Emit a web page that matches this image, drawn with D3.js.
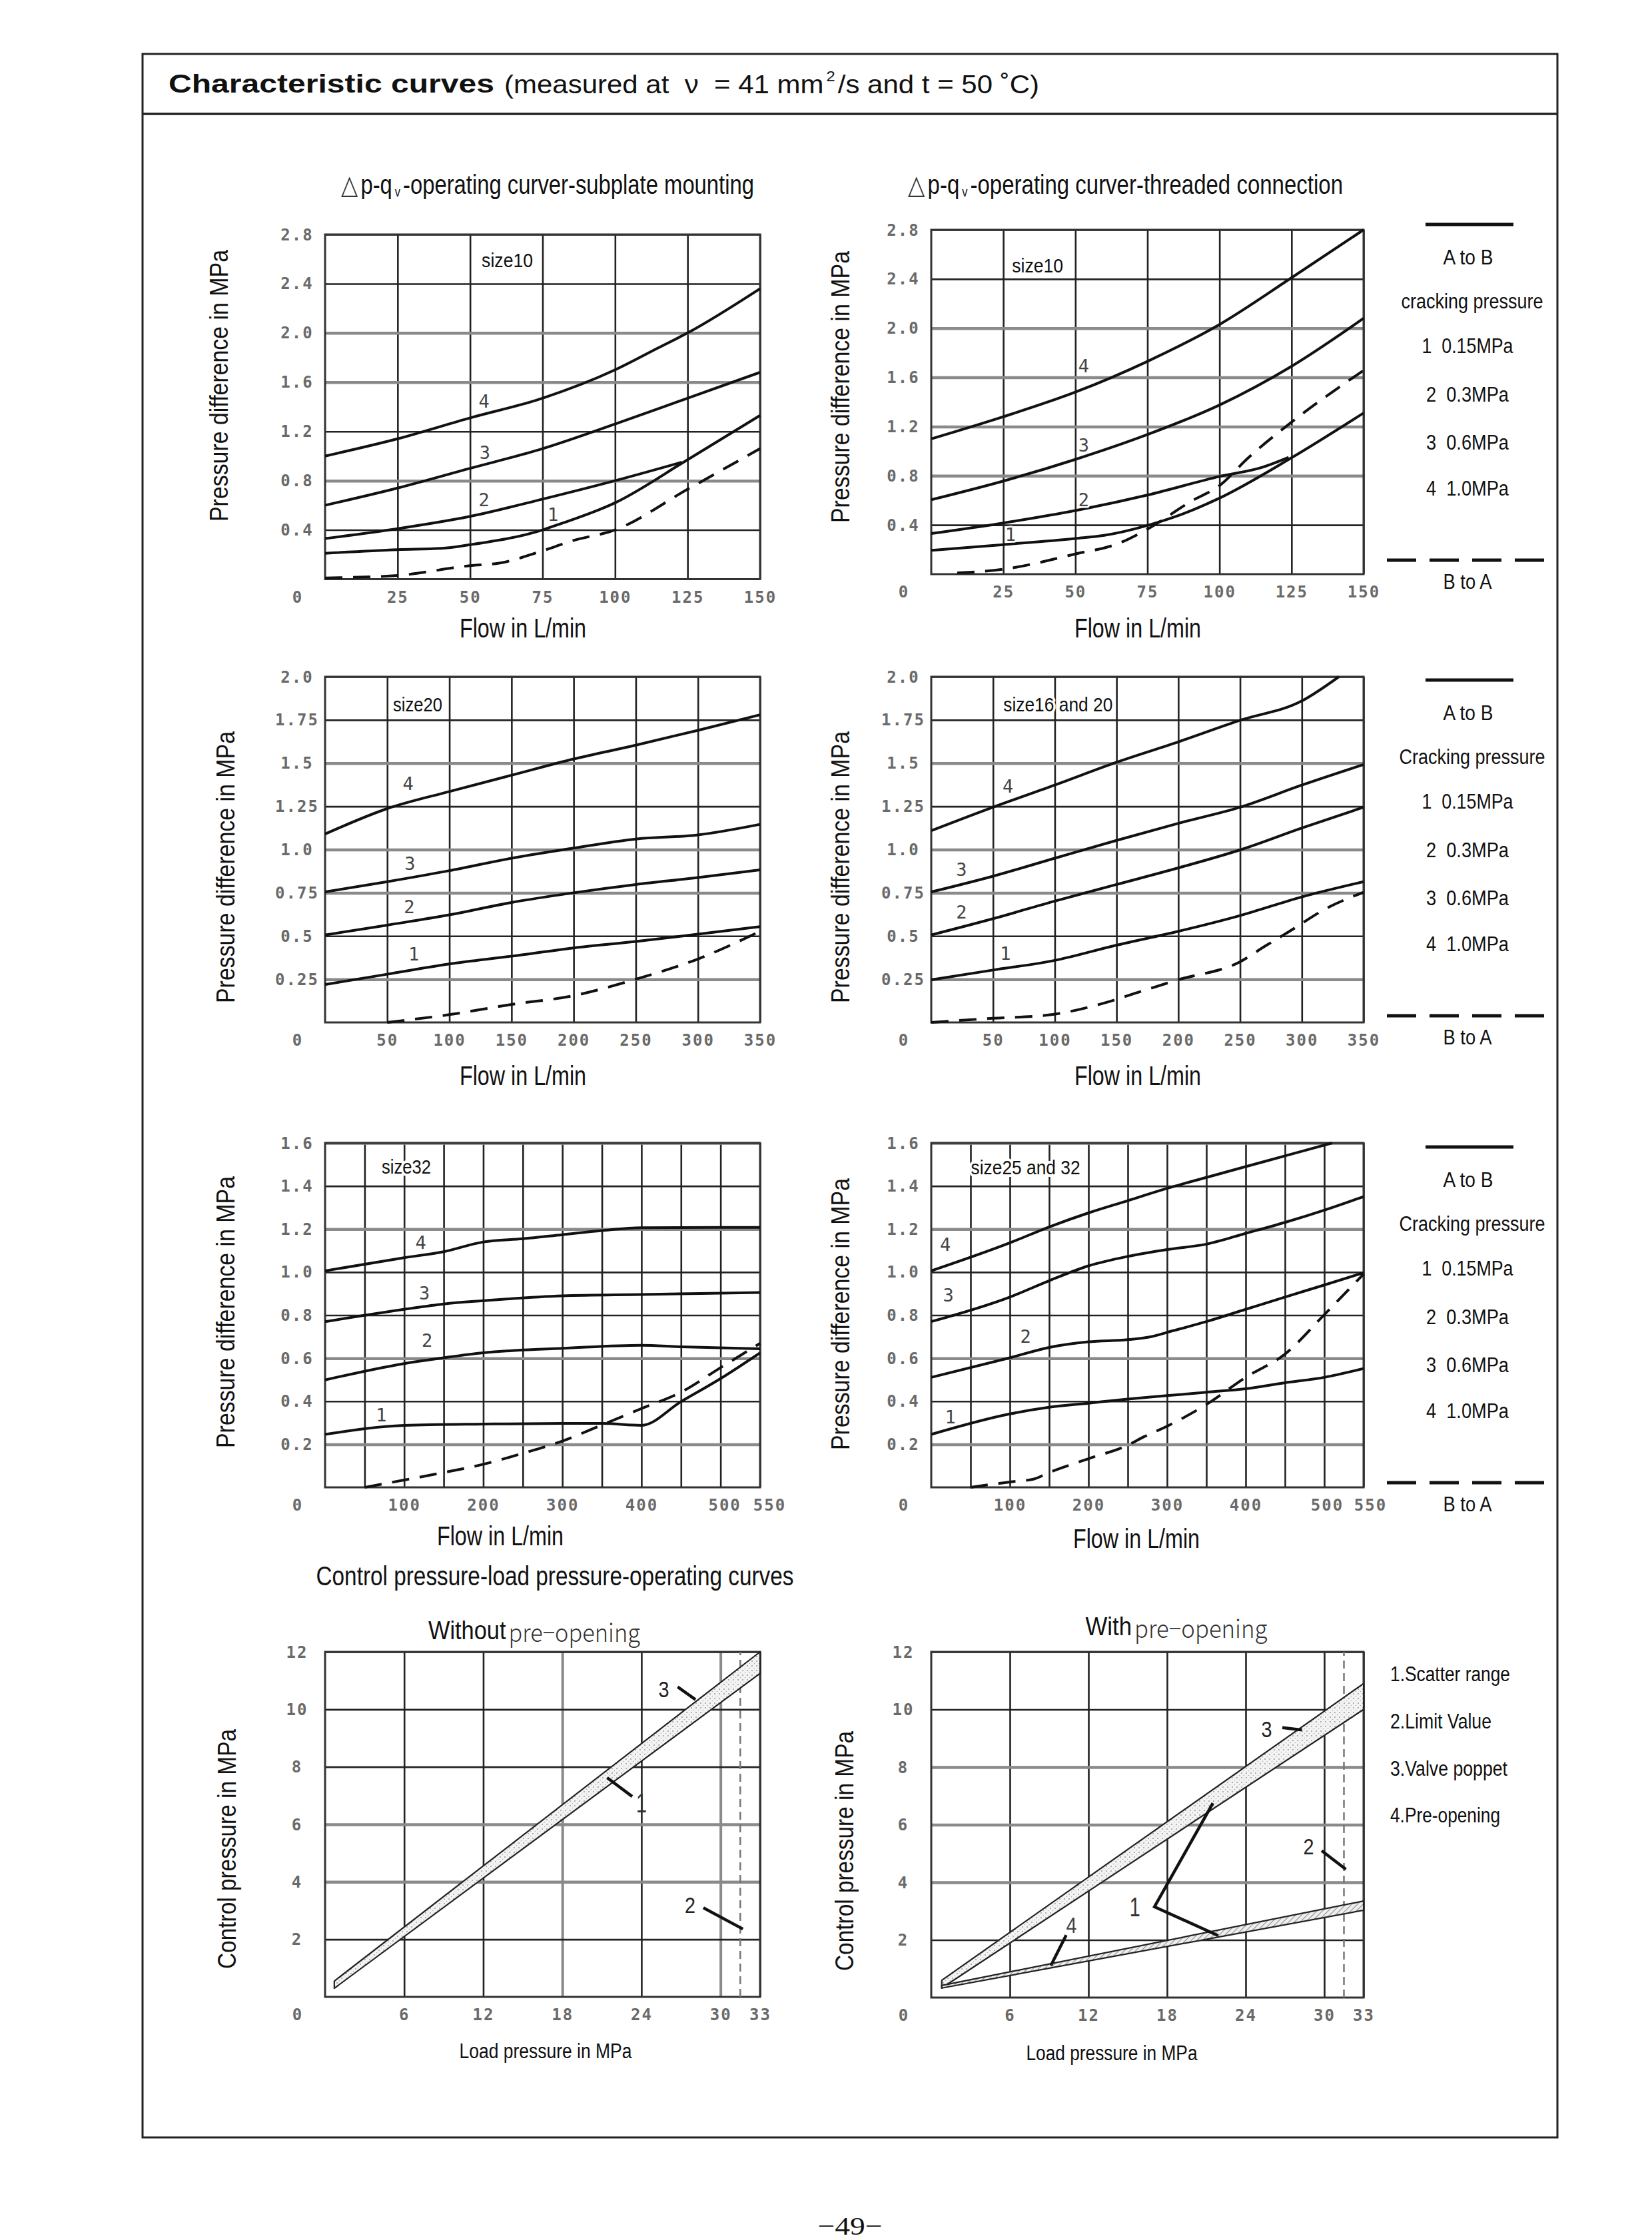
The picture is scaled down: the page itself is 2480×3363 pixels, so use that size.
<!DOCTYPE html>
<html><head><meta charset="utf-8">
<script src="https://cdn.jsdelivr.net/npm/d3@7/dist/d3.min.js"></script>
<style>html,body{margin:0;padding:0;background:#fff}svg{display:block}</style>
</head><body>
<svg id="page" width="2480" height="3363"></svg>
<script>
// ================= DATA =================
// Chart 1: Δp-qv subplate mounting, size10  [flow L/min, Δp MPa]
const sub10_c4 = [[0,1.00],[25,1.14],[50,1.31],[75,1.47],[100,1.70],[115,1.88],[125,2.00],[150,2.36]];
const sub10_c3 = [[0,0.60],[25,0.74],[50,0.90],[75,1.06],[100,1.26],[125,1.47],[150,1.68]];
const sub10_c2 = [[0,0.33],[25,0.41],[50,0.51],[75,0.65],[100,0.80],[123,0.95]];
const sub10_c1 = [[0,0.21],[25,0.24],[40,0.25],[50,0.28],[75,0.40],[80,0.44],[100,0.62],[125,0.97],[150,1.33]];
const sub10_ba = [[0,0.01],[25,0.03],[50,0.11],[60,0.13],[75,0.23],[85,0.31],[100,0.40],[125,0.73],[150,1.06]];
// Chart 2: threaded connection, size10
const thr10_c4 = [[0,1.10],[25,1.28],[50,1.48],[75,1.73],[100,2.03],[125,2.41],[150,2.80]];
const thr10_c3 = [[0,0.605],[25,0.757],[50,0.933],[75,1.135],[100,1.375],[125,1.69],[150,2.08]];
const thr10_c2 = [[0,0.33],[25,0.416],[50,0.517],[75,0.643],[100,0.794],[115,0.87],[124,0.95]];
const thr10_c1 = [[0,0.194],[25,0.24],[50,0.29],[60,0.315],[75,0.396],[85,0.47],[100,0.618],[125,0.946],[150,1.31]];
const thr10_ba = [[9,0.01],[25,0.04],[50,0.164],[65,0.25],[75,0.366],[90,0.59],[100,0.72],[110,0.946],[125,1.236],[150,1.657]];
// Chart 3: subplate, size20
const sub20_c4 = [[0,1.09],[50,1.237],[100,1.336],[150,1.43],[200,1.524],[250,1.604],[300,1.69],[350,1.78]];
const sub20_c3 = [[0,0.755],[50,0.814],[100,0.878],[150,0.95],[200,1.009],[250,1.061],[300,1.085],[350,1.146]];
const sub20_c2 = [[0,0.506],[50,0.563],[100,0.622],[150,0.694],[200,0.75],[250,0.798],[300,0.838],[350,0.883]];
const sub20_c1 = [[0,0.219],[50,0.279],[100,0.338],[150,0.383],[200,0.431],[250,0.468],[300,0.511],[350,0.554]];
const sub20_ba = [[50,0],[100,0.045],[150,0.104],[200,0.155],[250,0.25],[300,0.367],[350,0.527]];
// Chart 4: threaded, size16 and 20
const thr20_c4 = [[0,1.109],[50,1.245],[100,1.373],[150,1.505],[200,1.623],[250,1.748],[300,1.86],[330,2.0]];
const thr20_c3 = [[0,0.755],[50,0.846],[100,0.95],[150,1.053],[200,1.152],[250,1.245],[300,1.373],[350,1.492]];
const thr20_c2 = [[0,0.506],[50,0.6],[100,0.702],[150,0.798],[200,0.894],[250,0.998],[300,1.125],[350,1.245]];
const thr20_c1 = [[0,0.247],[50,0.303],[100,0.359],[150,0.447],[200,0.527],[250,0.618],[300,0.726],[350,0.814]];
const thr20_ba = [[0,0],[50,0.024],[95,0.043],[140,0.112],[170,0.18],[200,0.247],[250,0.351],[270,0.44],[290,0.527],[320,0.66],[350,0.753]];
// Chart 5: subplate, size32
const sub32_c4 = [[0,1.006],[100,1.067],[150,1.095],[200,1.14],[250,1.155],[300,1.174],[350,1.193],[400,1.206],[550,1.208]];
const sub32_c3 = [[0,0.77],[100,0.827],[150,0.852],[200,0.867],[300,0.89],[400,0.896],[550,0.905]];
const sub32_c2 = [[0,0.499],[100,0.575],[150,0.602],[200,0.625],[250,0.638],[300,0.646],[400,0.66],[450,0.653],[550,0.644]];
const sub32_c1 = [[0,0.246],[100,0.288],[200,0.294],[300,0.297],[350,0.297],[400,0.288],[450,0.398],[500,0.505],[550,0.625]];
const sub32_ba = [[50,0],[100,0.034],[150,0.069],[200,0.107],[250,0.158],[300,0.215],[350,0.29],[400,0.366],[450,0.442],[500,0.556],[550,0.669]];
// Chart 6: threaded, size25 and 32
const thr32_c4 = [[0,1.006],[100,1.136],[150,1.21],[200,1.275],[250,1.332],[300,1.389],[350,1.44],[400,1.49],[450,1.54],[510,1.6]];
const thr32_c3 = [[0,0.77],[100,0.884],[150,0.96],[200,1.029],[250,1.073],[300,1.105],[350,1.13],[400,1.18],[450,1.231],[500,1.288],[550,1.351]];
const thr32_c2 = [[0,0.511],[100,0.602],[150,0.65],[200,0.676],[250,0.686],[280,0.70],[300,0.72],[350,0.77],[400,0.827],[450,0.884],[500,0.94],[550,0.997]];
const thr32_c1 = [[0,0.246],[100,0.341],[150,0.372],[200,0.391],[250,0.41],[300,0.426],[350,0.442],[400,0.458],[450,0.486],[500,0.511],[550,0.552]];
const thr32_ba = [[50,0],[100,0.025],[130,0.038],[150,0.069],[200,0.133],[250,0.196],[270,0.234],[300,0.284],[350,0.385],[400,0.511],[450,0.619],[500,0.802],[550,0.991]];
// Chart 7/8: control pressure vs load pressure [load MPa, control MPa]
const noPre_upper = [[0.7,0.55],[33,12.0]];
const noPre_lower = [[0.7,0.3],[33,11.25]];
const pre_valve_upper = [[0.8,0.6],[33,10.9]];
const pre_valve_lower = [[0.8,0.33],[33,10.0]];
const pre_open_upper = [[0.8,0.42],[33,3.35]];
const pre_open_lower = [[0.8,0.33],[33,3.03]];
const limitValue = 31.5;

// Tick values / labels
const row1_xGrid = [25,50,75,100,125,150];
const row1_xTicks = [25,50,75,100,125,150];
const row1_xLabels = ['25','50','75','100','125','150'];
const row1_yTicks = [0.4,0.8,1.2,1.6,2.0,2.4,2.8];
const row1_yLabels = ['0.4','0.8','1.2','1.6','2.0','2.4','2.8'];
const row2_xGrid = [50,100,150,200,250,300,350];
const row2_xTicks = [50,100,150,200,250,300,350];
const row2_xLabels = ['50','100','150','200','250','300','350'];
const row2_yTicks = [0.25,0.5,0.75,1.0,1.25,1.5,1.75,2.0];
const row2_yLabels = ['0.25','0.5','0.75','1.0','1.25','1.5','1.75','2.0'];
const row3_xGrid = [50,100,150,200,250,300,350,400,450,500,550];
const row3_xTicks = [100,200,300,400,500,550];
const row3_xLabels = ['100','200','300','400','500','550'];
const row3_yTicks = [0.2,0.4,0.6,0.8,1.0,1.2,1.4,1.6];
const row3_yLabels = ['0.2','0.4','0.6','0.8','1.0','1.2','1.4','1.6'];
const row4_xGrid = [6,12,18,24,30,33];
const row4_xTicks = [6,12,18,24,30,33];
const row4_xLabels = ['6','12','18','24','30','33'];
const row4_yTicks = [2,4,6,8,10,12];
const row4_yLabels = ['2','4','6','8','10','12'];
const legendItems = ['1\u00a0\u00a00.15MPa','2\u00a0\u00a00.3MPa','3\u00a0\u00a00.6MPa','4\u00a0\u00a01.0MPa'];
const legend4Items = ['1.Scatter range','2.Limit Value','3.Valve poppet','4.Pre-opening'];

// ================= DRAWING =================
const svg = d3.select('#page');
const SANS = "'Liberation Sans', Arial, Helvetica, sans-serif";
const MONO = "'DejaVu Sans Mono', 'Liberation Mono', monospace";
const TICKC = '#6a6a6a';

const defs = svg.append('defs');
const pat = defs.append('pattern').attr('id','stip').attr('patternUnits','userSpaceOnUse')
  .attr('width',7).attr('height',7);
pat.append('rect').attr('width',7).attr('height',7).attr('fill','#f3f3f3');
pat.append('circle').attr('cx',2).attr('cy',2).attr('r',1).attr('fill','#9a9a9a');
pat.append('circle').attr('cx',5.5).attr('cy',5.5).attr('r',0.8).attr('fill','#b0b0b0');
const pat2 = defs.append('pattern').attr('id','hatch').attr('patternUnits','userSpaceOnUse')
  .attr('width',6).attr('height',6).attr('patternTransform','rotate(45)');
pat2.append('rect').attr('width',6).attr('height',6).attr('fill','#eee');
pat2.append('line').attr('x1',0).attr('y1',0).attr('x2',0).attr('y2',6).attr('stroke','#888').attr('stroke-width',2);

function txt(g,x,y,s,o={}){
  const t=g.append('text').attr('x',x).attr('y',y).text(s)
    .attr('font-family',o.family||SANS).attr('font-size',o.size||30)
    .attr('fill',o.fill||'#111').attr('text-anchor',o.anchor||'middle')
    .attr('dominant-baseline',o.base||'central');
  if(o.weight) t.attr('font-weight',o.weight);
  if(o.w) t.attr('textLength',o.w).attr('lengthAdjust','spacingAndGlyphs');
  if(o.rot) t.attr('transform',`rotate(${o.rot},${x},${y})`);
  if(o.ls) t.attr('letter-spacing',o.ls);
  if(o.halo) t.attr('stroke','#fff').attr('stroke-width',o.halo).attr('paint-order','stroke').attr('stroke-linejoin','round');
  return t;
}
// several text runs laid side by side (small gaps), fitted to a total width
function richText(parent,x,y,pieces,totalW,anchor){
  const g=parent.append('g');
  const GAP=4;
  const els=pieces.map(p=>{
    const t=g.append('text').attr('x',0).attr('y',y+(p.dy||0)).text(p.s)
      .attr('font-family',p.family||SANS).attr('font-size',p.size).attr('fill',p.fill||'#111')
      .attr('dominant-baseline','central');
    if(p.weight) t.attr('font-weight',p.weight);
    return t;
  });
  const nat=els.map(t=>t.node().getComputedTextLength());
  const k=(totalW-GAP*(els.length-1))/d3.sum(nat);
  let cx = anchor==='middle' ? x-totalW/2 : x;
  els.forEach((t,i)=>{
    t.attr('x',cx).attr('textLength',nat[i]*k).attr('lengthAdjust','spacingAndGlyphs');
    cx+=nat[i]*k+GAP;
  });
}

// Page frame
svg.append('rect').attr('x',214).attr('y',81).attr('width',2124).attr('height',3128)
  .attr('fill','none').attr('stroke','#222').attr('stroke-width',3);
svg.append('line').attr('x1',214).attr('x2',2338).attr('y1',171).attr('y2',171)
  .attr('stroke','#222').attr('stroke-width',3.5);
txt(svg,253,126,'Characteristic curves',{anchor:'start',size:38,weight:'bold',w:489});
richText(svg,757,126,[
  {s:'(measured at \u00a0ν\u00a0 = 41 mm',size:39},
  {s:'2',size:22,dy:-12},
  {s:'/s and t = 50 ˚C)',size:39}],803,'start');

txt(svg,1276,3342,'−49−',{family:"'Liberation Serif', 'Times New Roman', serif",size:38,w:97});

function chart(c){
  const g = svg.append('g');
  const x = d3.scaleLinear().domain(c.xd).range([c.l,c.r]);
  const y = d3.scaleLinear().domain(c.yd).range([c.b,c.t]);
  // grid via axes
  const gx = g.append('g').attr('transform',`translate(0,${c.b})`)
    .call(d3.axisBottom(x).tickValues(c.xGrid).tickSize(-(c.b-c.t)).tickFormat(''));
  gx.select('.domain').remove();
  gx.selectAll('line').attr('stroke',d=>(c.grayX||[]).includes(d)?'#8a8a8a':'#222')
    .attr('stroke-width',d=>(c.grayX||[]).includes(d)?4:2.6);
  const gy = g.append('g').attr('transform',`translate(${c.l},0)`)
    .call(d3.axisLeft(y).tickValues(c.yTicks).tickSize(-(c.r-c.l)).tickFormat(''));
  gy.select('.domain').remove();
  gy.selectAll('line').attr('stroke',d=>(c.grayY||[]).includes(d)?'#8a8a8a':'#222')
    .attr('stroke-width',d=>(c.grayY||[]).includes(d)?4.5:2.6);
  g.append('rect').attr('x',c.l).attr('y',c.t).attr('width',c.r-c.l).attr('height',c.b-c.t)
    .attr('fill','none').attr('stroke','#333').attr('stroke-width',3);
  // tick labels via axes
  const lx = g.append('g').attr('transform',`translate(0,${c.b})`)
    .call(d3.axisBottom(x).tickValues(c.xTicks).tickSize(0).tickFormat((d,i)=>c.xLabels[i]));
  lx.select('.domain').remove();
  lx.selectAll('text').attr('y',27).attr('dy','0').attr('dominant-baseline','central')
    .attr('font-family',MONO).attr('font-size',24).attr('font-weight','bold').attr('fill',TICKC).attr('letter-spacing',2)
    .attr('dx',(d,i)=> (c.xShift && c.xShift[i]) || 0);
  const ly = g.append('g').attr('transform',`translate(${c.l},0)`)
    .call(d3.axisLeft(y).tickValues(c.yTicks).tickSize(0).tickFormat((d,i)=>c.yLabels[i]));
  ly.select('.domain').remove();
  ly.selectAll('text').attr('x',-42).attr('dy','0').attr('dominant-baseline','central').attr('text-anchor','middle')
    .attr('font-family',MONO).attr('font-size',24).attr('font-weight','bold').attr('fill',TICKC).attr('letter-spacing',2);
  txt(g,c.l-42,c.b+27,'0',{family:MONO,size:24,weight:'bold',fill:TICKC});
  // axis titles
  txt(g,c.yl[0],c.yl[1],c.yTitle,{size:38,rot:-90,w:c.yTitleW,fill:'#111'});
  txt(g,c.xl[0],c.xl[1],c.xTitle,{size:c.xTitleSize||40,w:c.xTitleW,fill:'#111'});
  if(c.tag) txt(g,x(c.tag[0]),y(c.tag[1]),c.tag[2],{anchor:'start',size:30,w:c.tag[3],halo:8});
  const line = d3.line().x(d=>x(d[0])).y(d=>y(d[1])).curve(d3.curveMonotoneX);
  (c.curves||[]).forEach(cv=>{
    g.append('path').attr('d',line(cv.data)).attr('fill','none').attr('stroke','#111')
      .attr('stroke-width',4).attr('stroke-linejoin','round')
      .attr('stroke-dasharray',cv.dash?'26,16':null);
  });
  (c.labels||[]).forEach(lb=>txt(g,x(lb[0]),y(lb[1]),lb[2],{family:MONO,size:27,fill:'#444',halo:5}));
  return {g,x,y};
}

function legendAB(y0, crack){
  const g=svg.append('g');
  const sol=[y0, y0+49, y0+115, y0+182, y0+255, y0+327, y0+396, y0+504, y0+536];
  g.append('line').attr('x1',2140).attr('x2',2272).attr('y1',sol[0]).attr('y2',sol[0]).attr('stroke','#111').attr('stroke-width',5);
  txt(g,2204,sol[1],'A to B',{size:31,w:75});
  txt(g,2210,sol[2],crack,{size:31,w:crack[0]==='C'?219:213});
  legendItems.forEach((s,i)=>txt(g,2203,sol[3+i],s,{size:31,w:i===0?137:124}));
  g.append('line').attr('x1',2082).attr('x2',2324).attr('y1',sol[7]).attr('y2',sol[7]).attr('stroke','#111')
    .attr('stroke-width',5).attr('stroke-dasharray','44,20');
  txt(g,2203,sol[8],'B to A',{size:31,w:73});
}

// Row 1 titles
function titleQ(x0,y0,rest,w){
  richText(svg,x0,y0,[
    {s:'△',size:40,family:"'DejaVu Sans', sans-serif",weight:200,fill:'#333'},
    {s:'p-q',size:40},
    {s:'v',size:20,dy:11},
    {s:rest,size:40}],w,'start');
}
titleQ(512,277,'-operating curver-subplate mounting',620);
titleQ(1363,277,'-operating curver-threaded connection',653);

const PD='Pressure difference in MPa', FL='Flow in L/min';
chart({l:488,r:1141,t:352,b:869.5,xd:[0,150],yd:[0,2.8],xGrid:row1_xGrid,xTicks:row1_xTicks,xLabels:row1_xLabels,
  yTicks:row1_yTicks,yLabels:row1_yLabels,grayY:[2.0,1.6,0.8],
  yl:[329,579],yTitle:PD,yTitleW:408,xl:[785,943],xTitle:FL,xTitleW:190,tag:[54,2.59,'size10',77],
  curves:[{data:sub10_c4},{data:sub10_c3},{data:sub10_c2},{data:sub10_c1},{data:sub10_ba,dash:1}],
  labels:[[54.8,1.447,'4'],[55.1,1.027,'3'],[54.8,0.644,'2'],[78.6,0.523,'1']]});
chart({l:1398,r:2047,t:345,b:862,xd:[0,150],yd:[0,2.8],xGrid:row1_xGrid,xTicks:row1_xTicks,xLabels:row1_xLabels,
  yTicks:row1_yTicks,yLabels:row1_yLabels,grayY:[2.0,1.6,1.2,0.8],
  yl:[1262,581],yTitle:PD,yTitleW:408,xl:[1708,943],xTitle:FL,xTitleW:190,tag:[28,2.51,'size10',77],
  curves:[{data:thr10_c4},{data:thr10_c3},{data:thr10_c2},{data:thr10_c1},{data:thr10_ba,dash:1}],
  labels:[[52.9,1.69,'4'],[52.9,1.047,'3'],[52.9,0.605,'2'],[27.5,0.32,'1']]});
legendAB(337,'cracking pressure');

chart({l:488,r:1141,t:1016,b:1535,xd:[0,350],yd:[0,2.0],xGrid:row2_xGrid,xTicks:row2_xTicks,xLabels:row2_xLabels,
  yTicks:row2_yTicks,yLabels:row2_yLabels,grayY:[1.5,1.0,0.75,0.25],
  yl:[339,1302],yTitle:PD,yTitleW:408,xl:[785,1615],xTitle:FL,xTitleW:190,tag:[54.7,1.84,'size20',74],
  curves:[{data:sub20_c4},{data:sub20_c3},{data:sub20_c2},{data:sub20_c1},{data:sub20_ba,dash:1}],
  labels:[[66.8,1.38,'4'],[68.3,0.918,'3'],[67.7,0.67,'2'],[71.4,0.394,'1']]});
chart({l:1398,r:2047,t:1016,b:1535,xd:[0,350],yd:[0,2.0],xGrid:row2_xGrid,xTicks:row2_xTicks,xLabels:row2_xLabels,
  yTicks:row2_yTicks,yLabels:row2_yLabels,grayY:[1.5,1.0,0.75,0.25],
  yl:[1262,1302],yTitle:PD,yTitleW:408,xl:[1708,1615],xTitle:FL,xTitleW:190,tag:[58.4,1.84,'size16 and 20',164],
  curves:[{data:thr20_c4},{data:thr20_c3},{data:thr20_c2},{data:thr20_c1},{data:thr20_ba,dash:1}],
  labels:[[62.1,1.365,'4'],[24.5,0.886,'3'],[24.5,0.638,'2'],[60.1,0.399,'1']]});
legendAB(1021,'Cracking pressure');

chart({l:488,r:1141,t:1716,b:2233,xd:[0,550],yd:[0,1.6],xGrid:row3_xGrid,xTicks:row3_xTicks,xLabels:row3_xLabels,
  xShift:[0,0,0,0,6,14],yTicks:row3_yTicks,yLabels:row3_yLabels,grayY:[1.6,1.2,0.6,0.2],
  yl:[339,1970],yTitle:PD,yTitleW:408,xl:[751,2306],xTitle:FL,xTitleW:190,tag:[71.6,1.49,'size32',74],
  curves:[{data:sub32_c4},{data:sub32_c3},{data:sub32_c2},{data:sub32_c1},{data:sub32_ba,dash:1}],
  labels:[[120.9,1.136,'4'],[125.7,0.903,'3'],[129,0.682,'2'],[71.1,0.335,'1']]});
chart({l:1398,r:2047,t:1716,b:2233,xd:[0,550],yd:[0,1.6],xGrid:row3_xGrid,xTicks:row3_xTicks,xLabels:row3_xLabels,
  xShift:[0,0,0,0,4,10],yTicks:row3_yTicks,yLabels:row3_yLabels,grayY:[1.6,1.2,0.6,0.2],
  yl:[1262,1973],yTitle:PD,yTitleW:408,xl:[1706,2310],xTitle:FL,xTitleW:190,tag:[50.5,1.486,'size25 and 32',164],
  curves:[{data:thr32_c4},{data:thr32_c3},{data:thr32_c2},{data:thr32_c1},{data:thr32_ba,dash:1}],
  labels:[[18,1.128,'4'],[21.8,0.893,'3'],[120,0.701,'2'],[24.2,0.328,'1']]});
legendAB(1722,'Cracking pressure');

// Row 4
txt(svg,833,2366,'Control pressure-load pressure-operating curves',{size:40,w:717});
function preTitle(cx,cy,a,w){
  richText(svg,cx,cy,[
    {s:a,size:38},
    {s:'pre−opening',size:38,family:"'Noto Sans CJK JP', sans-serif",fill:'#333',weight:300}],w,'middle');
}
preTitle(802,2448,'Without',318);
preTitle(1766,2442,'With',273);

const CP='Control pressure in MPa', LP='Load pressure in MPa';
const area = (X,Y)=>d3.area().x(d=>X(d[0])).y0(d=>Y(d[1])).y1(d=>Y(d[2]));
function band(ch,upper,lower,fill){
  const rows = upper.map((d,i)=>[d[0],lower[i][1],d[1]]);
  const pth = area(ch.x,ch.y)(rows);
  ch.g.append('path').attr('d',pth).attr('fill',fill).attr('stroke','#222').attr('stroke-width',2.2).attr('stroke-linejoin','round');
}
function leader(ch,pts){
  ch.g.append('path').attr('d',d3.line().x(d=>ch.x(d[0])).y(d=>ch.y(d[1]))(pts))
    .attr('fill','none').attr('stroke','#111').attr('stroke-width',4.5);
}
function limit(ch){
  ch.g.append('line').attr('x1',ch.x(limitValue)).attr('x2',ch.x(limitValue)).attr('y1',ch.y(0)).attr('y2',ch.y(12))
    .attr('stroke','#777').attr('stroke-width',2.5).attr('stroke-dasharray','12,7');
}
const c7 = chart({l:488,r:1141,t:2480,b:2998,xd:[0,33],yd:[0,12],xGrid:row4_xGrid,xTicks:row4_xTicks,xLabels:row4_xLabels,
  yTicks:row4_yTicks,yLabels:row4_yLabels,grayY:[6,4],grayX:[18,30],
  yl:[341,2776],yTitle:CP,yTitleW:360,xl:[819,3079],xTitle:LP,xTitleSize:31,xTitleW:259});
limit(c7);
band(c7,noPre_upper,noPre_lower,'url(#stip)');
leader(c7,[[26.75,10.78],[28.1,10.34]]);
leader(c7,[[21.4,7.62],[23.3,6.97]]);
leader(c7,[[28.7,3.1],[31.7,2.36]]);
txt(c7.g,c7.x(25.7),c7.y(10.7),'3',{size:34,fill:'#222',w:16});
txt(c7.g,c7.x(24.0),c7.y(6.74),'1',{size:40,fill:'#333',w:16});
txt(c7.g,c7.x(27.7),c7.y(3.19),'2',{size:34,fill:'#222',w:16});

const c8 = chart({l:1398,r:2047,t:2480,b:2999,xd:[0,33],yd:[0,12],xGrid:row4_xGrid,xTicks:row4_xTicks,xLabels:row4_xLabels,
  yTicks:row4_yTicks,yLabels:row4_yLabels,grayY:[8,6,4],grayX:[],
  yl:[1268,2779],yTitle:CP,yTitleW:360,xl:[1669,3082],xTitle:LP,xTitleSize:31,xTitleW:257});
limit(c8);
band(c8,pre_valve_upper,pre_valve_lower,'url(#stip)');
band(c8,pre_open_upper,pre_open_lower,'url(#hatch)');
leader(c8,[[26.8,9.37],[28.3,9.29]]);
leader(c8,[[29.8,5.1],[31.65,4.45]]);
leader(c8,[[21.5,6.75],[17.04,3.15],[21.9,2.15]]);
leader(c8,[[10.3,2.17],[9.13,1.11]]);
txt(c8.g,c8.x(25.6),c8.y(9.32),'3',{size:34,fill:'#222',w:16});
txt(c8.g,c8.x(28.8),c8.y(5.24),'2',{size:34,fill:'#222',w:16});
txt(c8.g,c8.x(15.55),c8.y(3.15),'1',{size:40,fill:'#333',w:16});
txt(c8.g,c8.x(10.7),c8.y(2.52),'4',{size:34,fill:'#444',w:16});
legend4Items.forEach((s,i)=>txt(svg,2087,[2513,2584,2655,2725][i],s,{anchor:'start',size:31,w:[180,152,176,165][i]}));
</script>
</body></html>
